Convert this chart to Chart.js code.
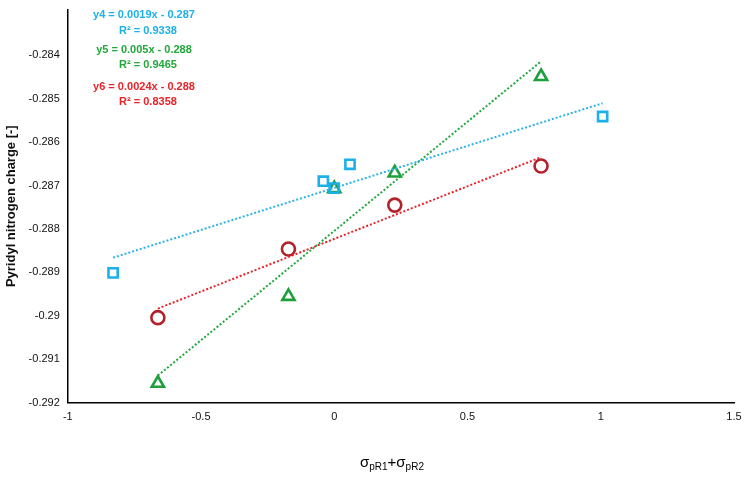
<!DOCTYPE html><html><head><meta charset="utf-8">
<script src="https://cdn.jsdelivr.net/npm/chart.js@4"></script>
<style>html,body{margin:0;background:#fff}#w{width:750px;height:481px}</style></head><body><div id="w"><canvas id="c"></canvas></div>
<script>
const blueX=[-0.83,-0.041,0.0,0.059,1.007];
const blueY=[-0.28901,-0.28690,-0.28706,-0.28651,-0.28541];
const greenX=[-0.662,-0.172,0.0,0.227,0.776];
const greenY=[-0.29155,-0.28955,-0.28707,-0.28671,-0.28449];
const redX=[-0.662,-0.172,0.227,0.776];
const redY=[-0.29004,-0.28846,-0.28745,-0.28655];
const eqTexts=[["y4 = 0.0019x - 0.287","R² = 0.9338","#1cb0ea"],["y5 = 0.005x - 0.288","R² = 0.9465","#22a83a"],["y6 = 0.0024x - 0.288","R² = 0.8358","#e8232a"]];
const pts=(X,Y)=>X.map((x,i)=>({x,y:Y[i]}));
function trend(X,Y){const n=X.length,mx=X.reduce((a,b)=>a+b)/n,my=Y.reduce((a,b)=>a+b)/n;let sxy=0,sxx=0;X.forEach((x,i)=>{sxy+=(x-mx)*(Y[i]-my);sxx+=(x-mx)**2});const m=sxy/sxx,b=my-m*mx;const a=Math.min(...X),c=Math.max(...X);return[{x:a,y:m*a+b},{x:c,y:m*c+b}];}
const line=(d,col)=>({type:'line',data:d,borderColor:col,borderWidth:2,borderDash:[2,2],pointRadius:0,fill:false});
const mk=(d,col,st)=>({type:'scatter',data:d,pointStyle:st,pointRadius:st==='triangle'?7:6.5,pointBorderColor:col,pointBackgroundColor:'rgba(0,0,0,0)',pointBorderWidth:2.6});
const deco={id:'deco',afterDraw(ch){const c=ch.ctx;c.save();c.textAlign='center';c.textBaseline='middle';
 const ys=[[15,31],[50,65],[87,102]];
 eqTexts.forEach((t,i)=>{c.fillStyle=t[2];c.font='bold 11px "Liberation Sans Narrow", "Liberation Sans", sans-serif';c.fillText(t[0],144,ys[i][0]);c.fillText(t[1],148,ys[i][1]);});
 c.fillStyle='#000';c.textAlign='left';const y0=463;let x=360;
 const parts=[['σ',15,0],['pR1',10,4],['+σ',15,0],['pR2',10,4]];
 parts.forEach(p=>{c.font=p[1]+'px "Liberation Sans", sans-serif';c.fillText(p[0],x,y0+p[2]);x+=c.measureText(p[0]).width;});
 c.restore();}};
new Chart(document.getElementById('c'),{data:{datasets:[
 line(trend(blueX,blueY),'#2ab4ea'),line(trend(greenX,greenY),'#22a83a'),line(trend(redX,redY),'#e8232a'),
 mk(pts(blueX,blueY),'#1cb0ea','rect'),mk(pts(greenX,greenY),'#1f9e3c','triangle'),mk(pts(redX,redY),'#b3222a','circle')]},
 options:{responsive:true,maintainAspectRatio:false,animation:false,layout:{padding:{top:0,right:16,bottom:54,left:0}},
 plugins:{legend:{display:false},tooltip:{enabled:false}},
 scales:{x:{type:'linear',min:-1,max:1.5,grid:{display:false,drawTicks:true,tickLength:5},border:{color:'#000',width:1.5},
   afterBuildTicks(s){s.ticks=[-1,-0.5,0,0.5,1,1.5].map(v=>({value:v}));},
   ticks:{color:'#111',font:{size:11,family:'Liberation Sans'},callback:v=>String(v)}},
  y:{type:'linear',min:-0.292,max:-0.28295,grid:{display:false,tickLength:5},border:{color:'#000',width:1.5},
   afterBuildTicks(s){const t=[];for(let i=0;i<=8;i++)t.push({value:-0.292+i*0.001});s.ticks=t;},
   ticks:{color:'#111',font:{size:11,family:'Liberation Sans'},callback:v=>String(Number(v.toFixed(3)))},
   title:{display:true,text:'Pyridyl nitrogen charge [-]',font:{size:13,weight:'bold',family:'Liberation Sans'},color:'#111',padding:{bottom:6}}}}},
 plugins:[deco]});
</script></body></html>
